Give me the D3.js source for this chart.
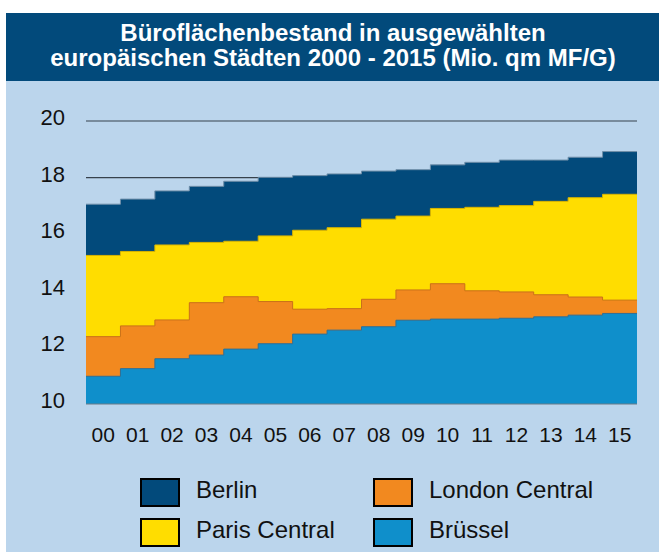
<!DOCTYPE html>
<html>
<head>
<meta charset="utf-8">
<script src="https://cdn.jsdelivr.net/npm/d3@7"></script>
<style>
  body { margin: 0; background: #fff; }
  svg { display: block; font-family: "Liberation Sans", Arial, sans-serif; }
</style>
</head>
<body>
<svg id="chart" width="659" height="552"></svg>
<script>
// data (Mio. qm MF/G)
const years = ["00","01","02","03","04","05","06","07","08","09","10","11","12","13","14","15"];
const berlin   = [17.06,17.24,17.53,17.69,17.87,18.01,18.07,18.13,18.23,18.28,18.45,18.54,18.62,18.62,18.72,18.92];
const paris    = [15.25,15.39,15.62,15.71,15.75,15.94,16.14,16.23,16.53,16.64,16.91,16.95,17.01,17.16,17.29,17.41];
const london   = [12.38,12.76,12.97,13.58,13.79,13.62,13.35,13.37,13.70,14.03,14.25,14.00,13.96,13.86,13.78,13.67];
const bruessel = [10.98,11.25,11.60,11.73,11.94,12.13,12.47,12.61,12.73,12.96,13.00,13.00,13.03,13.08,13.14,13.20];
const yTicks = [10, 12, 14, 16, 18, 20];

const titleLines = ["Büroflächenbestand in ausgewählten", "europäischen Städten 2000 - 2015 (Mio. qm MF/G)"];

const series = [
    { name: "Berlin",         values: berlin,   color: "#024a7b", edge: "#6f8ea8" },
    { name: "Paris Central",  values: paris,    color: "#ffdd00", edge: "#d9b400" },
    { name: "London Central", values: london,   color: "#f2891f", edge: "#c9701a" },
    { name: "Brüssel",        values: bruessel, color: "#0f8fcb", edge: "#2f6f96" }
];

const svg = d3.select("#chart");
const width = +svg.attr("width");
const height = +svg.attr("height");

// panel + title bar
svg.append("rect")
    .attr("x", 6).attr("y", 80)
    .attr("width", width - 6).attr("height", height - 80)
    .attr("fill", "#bbd5ec");
svg.append("rect")
    .attr("x", 6).attr("y", 13)
    .attr("width", width - 6).attr("height", 68)
    .attr("fill", "#024a7b");

svg.append("g").selectAll("text")
    .data(titleLines)
    .enter().append("text")
    .attr("x", 333)
    .attr("y", (d, i) => 41 + i * 25)
    .attr("text-anchor", "middle")
    .attr("fill", "#fff")
    .attr("font-weight", "bold")
    .attr("font-size", "24px")
    .text(d => d);

// scales
const margin = { left: 86, right: 22 };
const x = d3.scaleBand()
    .domain(years)
    .range([margin.left, width - margin.right])
    .padding(0);

const y = d3.scaleLinear()
    .domain([10, 20])
    .range([404, 121]);

// grid lines (behind the areas)
svg.append("g").selectAll("line")
    .data(yTicks.filter(d => d > 10))
    .enter().append("line")
    .attr("x1", x.range()[0])
    .attr("x2", x.range()[1])
    .attr("y1", d => y(d))
    .attr("y2", d => y(d))
    .attr("stroke", "#37424c")
    .attr("stroke-width", 1.2);

// y labels
svg.append("g").selectAll("text")
    .data(yTicks)
    .enter().append("text")
    .attr("x", 65)
    .attr("y", d => y(d) + 4)
    .attr("text-anchor", "end")
    .attr("font-size", "22px")
    .attr("fill", "#111")
    .text(d => d);

// step areas, drawn back to front
const bw = x.bandwidth();
function stepPoints(vals) {
    const pts = [];
    years.forEach((yr, i) => {
        pts.push([x(yr), vals[i]]);
        pts.push([x(yr) + bw, vals[i]]);
    });
    return pts;
}

const area = d3.area()
    .x(d => d[0])
    .y0(y(10))
    .y1(d => y(d[1]));
const topLine = d3.line()
    .x(d => d[0])
    .y(d => y(d[1]));

const areas = svg.append("g").attr("class", "areas");
series.forEach(s => {
    const pts = stepPoints(s.values);
    areas.append("path")
        .attr("d", area(pts))
        .attr("fill", s.color);
    areas.append("path")
        .attr("d", topLine(pts))
        .attr("fill", "none")
        .attr("stroke", s.edge)
        .attr("stroke-width", 1);
});

// baseline
svg.append("line")
    .attr("x1", x.range()[0]).attr("x2", x.range()[1])
    .attr("y1", y(10)).attr("y2", y(10))
    .attr("stroke", "#6b7a86")
    .attr("stroke-width", 1);

// x labels
svg.append("g").selectAll("text")
    .data(years)
    .enter().append("text")
    .attr("x", d => x(d) + bw / 2)
    .attr("y", 442)
    .attr("text-anchor", "middle")
    .attr("font-size", "21px")
    .attr("fill", "#111")
    .text(d => d);

// legend, two columns
const legendOrder = [series[0], series[2], series[1], series[3]];
const legend = svg.append("g").selectAll("g")
    .data(legendOrder)
    .enter().append("g")
    .attr("transform", (d, i) => `translate(${i % 2 === 0 ? 141 : 374},${479 + Math.floor(i / 2) * 40})`);

legend.append("rect")
    .attr("width", 38)
    .attr("height", 27)
    .attr("fill", d => d.color)
    .attr("stroke", "#000")
    .attr("stroke-width", 2);

legend.append("text")
    .attr("x", 55)
    .attr("y", 19)
    .attr("font-size", "24px")
    .attr("fill", "#111")
    .text(d => d.name);
</script>
</body>
</html>
